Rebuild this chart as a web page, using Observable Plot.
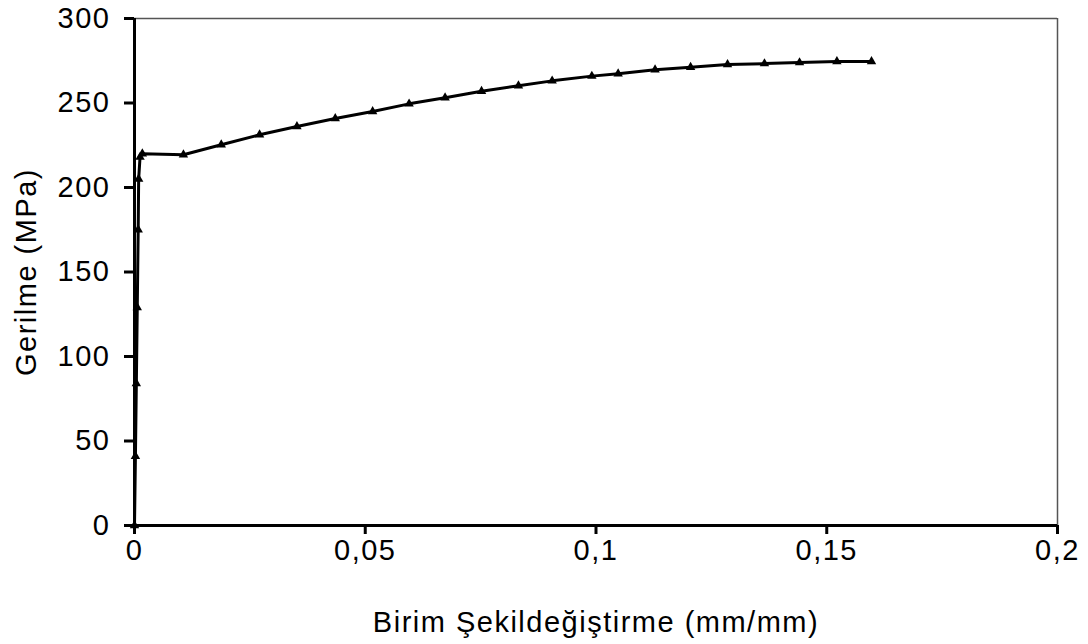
<!DOCTYPE html>
<html>
<head>
<meta charset="utf-8">
<script src="https://cdn.jsdelivr.net/npm/d3@7"></script>
<script src="https://cdn.jsdelivr.net/npm/@observablehq/plot@0.6"></script>
<style>
  html, body { margin: 0; padding: 0; background: #fff; }
  #chart { width: 1088px; height: 644px; }
</style>
</head>
<body>
<div id="chart"></div>
<script>
const strain = [0, 0.0002, 0.0004, 0.0006, 0.0008, 0.0009, 0.0012, 0.0017, 0.0106, 0.0188, 0.0271, 0.0352, 0.0435, 0.0516, 0.0595, 0.0673, 0.0752, 0.0832, 0.0905, 0.0991, 0.1048, 0.1128, 0.1205, 0.1285, 0.1365, 0.1441, 0.1522, 0.1597];
const stress = [0, 41, 84, 129, 175, 205, 218, 220, 219.4, 225.3, 231.2, 236.1, 240.8, 245, 249.5, 253.1, 257, 260.2, 263.1, 265.9, 267.3, 269.7, 271.2, 272.8, 273.3, 273.9, 274.6, 274.6];
const xTicks = [0, 0.05, 0.1, 0.15, 0.2];
const yTicks = [0, 50, 100, 150, 200, 250, 300];
const xLabel = "Birim Şekildeğiştirme (mm/mm)";
const yLabel = "Gerilme (MPa)";

const data = strain.map((s, i) => ({strain: s, stress: stress[i]}));
const fmt = d => String(d).replace(".", ",");

const chart = Plot.plot({
  width: 1088,
  height: 644,
  marginLeft: 134,
  marginRight: 31,
  marginTop: 18,
  marginBottom: 119,
  style: {fontFamily: "'Liberation Sans', Arial, sans-serif", fontSize: "29px", letterSpacing: "1.5px", color: "#000", background: "#fff"},
  x: {domain: [0, 0.2]},
  y: {domain: [0, 300]},
  marks: [
    Plot.ruleY([300], {stroke: "#555", strokeWidth: 1.5}),
    Plot.ruleX([0.2], {stroke: "#555", strokeWidth: 1.5}),
    Plot.axisX({ticks: xTicks, tickFormat: fmt, tickSize: 9, tickPadding: 5, strokeWidth: 3, fontSize: 29,
      label: xLabel, labelAnchor: "center", labelArrow: "none", labelOffset: 106}),
    Plot.axisY({ticks: yTicks, tickFormat: d => d, tickSize: 10, tickPadding: 14, strokeWidth: 3, fontSize: 29,
      label: yLabel, labelAnchor: "center", labelArrow: "none", labelOffset: 119}),
    Plot.line(data, {x: "strain", y: "stress", stroke: "#000", strokeWidth: 3}),
    Plot.dot(data, {x: "strain", y: "stress", symbol: "triangle", r: 3.5, fill: "#000", stroke: "none"}),
    Plot.ruleY([0], {stroke: "#000", strokeWidth: 3}),
    Plot.ruleX([0], {stroke: "#000", strokeWidth: 3})
  ]
});
document.getElementById("chart").appendChild(chart);
</script>
</body>
</html>
